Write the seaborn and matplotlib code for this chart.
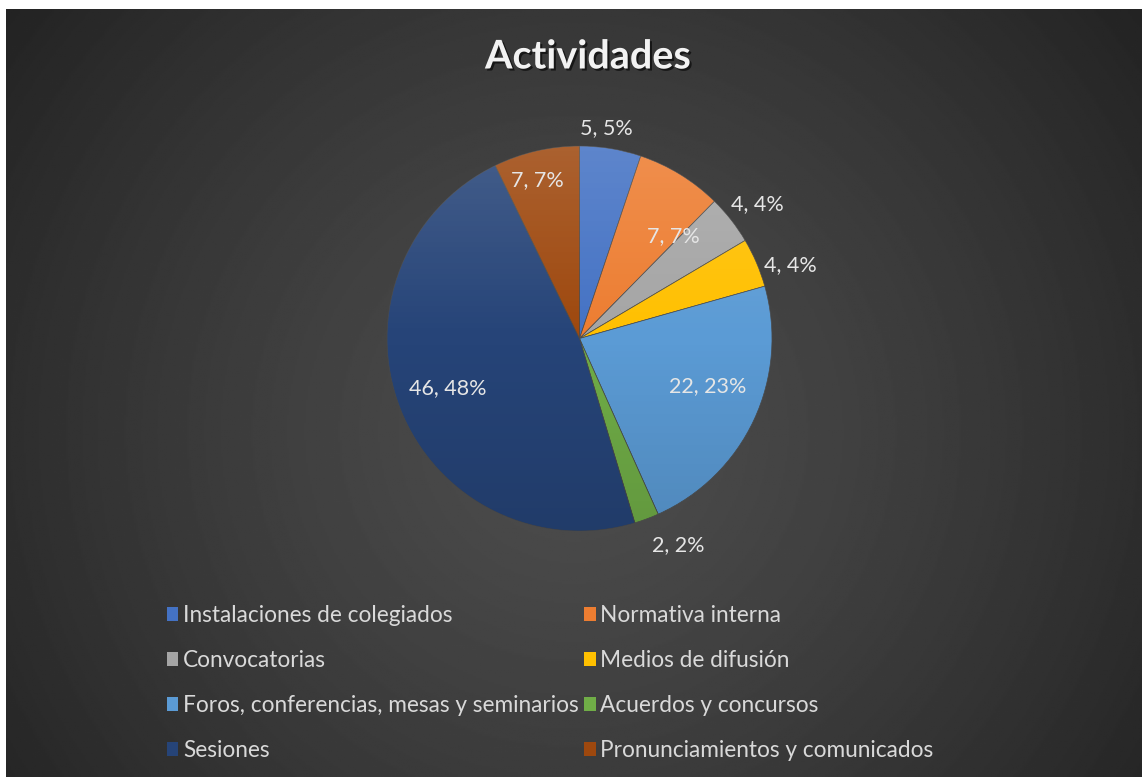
import numpy as np
import matplotlib
matplotlib.use("Agg")
import matplotlib.pyplot as plt
import matplotlib.patheffects as pe
from matplotlib.patches import Patch, Circle
import seaborn as sns

# data
categories = ["Instalaciones de colegiados", "Normativa interna", "Convocatorias",
              "Medios de difusión", "Foros, conferencias, mesas y seminarios",
              "Acuerdos y concursos", "Sesiones", "Pronunciamientos y comunicados"]
values = [5, 7, 4, 4, 22, 2, 46, 7]
percents = [5, 7, 4, 4, 23, 2, 48, 7]
colors = ["#4472C4", "#ED7D31", "#A5A5A5", "#FFC000", "#5B9BD5", "#70AD47", "#264478", "#9E480E"]

# label placement: (radius factor, angle shift in degrees)
label_pos = [(1.10, 2), (0.72, -11), (1.16, -1), (1.16, -4),
             (0.71, 4.5), (1.19, 5), (0.73, -0.6), (0.85, 2)]

sns.set_theme(style="white")
plt.rcParams["font.family"] = ["Lato", "DejaVu Sans"]

W, H = 1142, 777
fig = plt.figure(figsize=(W / 100, H / 100), dpi=100)
fig.patch.set_facecolor("white")

# dark radial background
bg = fig.add_axes([6 / W, 0, 1 - 6 / W, 1 - 9 / H])
yy, xx = np.mgrid[0:1:400j, 0:1:600j]
d = np.sqrt(((xx - 0.5) / 0.62) ** 2 + ((yy - 0.55) / 0.9) ** 2)
g = 0.30 - 0.16 * np.clip(d, 0, 1) ** 1.3
bg.imshow(g, cmap="gray", vmin=0, vmax=1, extent=(0, 1, 0, 1), origin="upper", aspect="auto")
bg.set_axis_off()

# pie axes: center (579.5, 338.5) px, radius 192.5 px
R = 192.5
L = 1.3
S = 2 * L * R
cx, cy = 579.5, 338.5
ax = fig.add_axes([(cx - S / 2) / W, (H - cy - S / 2) / H, S / W, S / H])
ax.set_facecolor("none")
wedges, _ = ax.pie(values, colors=colors, startangle=90, counterclock=False, radius=1,
                   wedgeprops=dict(linewidth=0.5, edgecolor="#4a4a4a"))

# soft vertical shading over the pie
n = 200
shade = np.zeros((n, 1, 4))
t = np.linspace(0, 1, n)
shade[:, 0, :3] = np.where(t < 0.5, 1.0, 0.0)[:, None]
shade[:, 0, 3] = np.where(t < 0.5, 0.14 * (1 - t / 0.5), 0.12 * (t - 0.5) / 0.5)
im = ax.imshow(shade, extent=(-1, 1, -1, 1), origin="upper", aspect="auto", zorder=3)
im.set_clip_path(Circle((0, 0), 1, transform=ax.transData))

for w, v, p, (rf, da) in zip(wedges, values, percents, label_pos):
    ang = np.deg2rad((w.theta1 + w.theta2) / 2 + da)
    ax.text(rf * np.cos(ang), rf * np.sin(ang), f"{v}, {p}%", ha="center", va="center",
            color="#E6E6E6", fontsize=15.5, zorder=5)

ax.set_xlim(-L, L)
ax.set_ylim(-L, L)
ax.set_axis_off()

# title
fig.text(588 / W, 1 - 57 / H, "Actividades", ha="center", va="center", fontsize=28.5,
         fontweight="bold", color="#F2F2F2",
         path_effects=[pe.withSimplePatchShadow(offset=(1.5, -1.5), shadow_rgbFace="black", alpha=0.6)])

# legend, filled row by row
handles = [Patch(facecolor=c, edgecolor="none", label=lab) for c, lab in zip(colors, categories)]
order = [0, 2, 4, 6, 1, 3, 5, 7]
fig.legend([handles[i] for i in order], [categories[i] for i in order], ncol=2,
           loc="upper left", bbox_to_anchor=(167 / W, 1 - 605 / H), frameon=False,
           fontsize=16.3, labelcolor="#D9D9D9", handlelength=0.5, handleheight=0.6,
           handletextpad=0.2, columnspacing=0.25, labelspacing=1.06, borderpad=0,
           borderaxespad=0)

fig.savefig("out.png", dpi=100, facecolor=fig.get_facecolor())
